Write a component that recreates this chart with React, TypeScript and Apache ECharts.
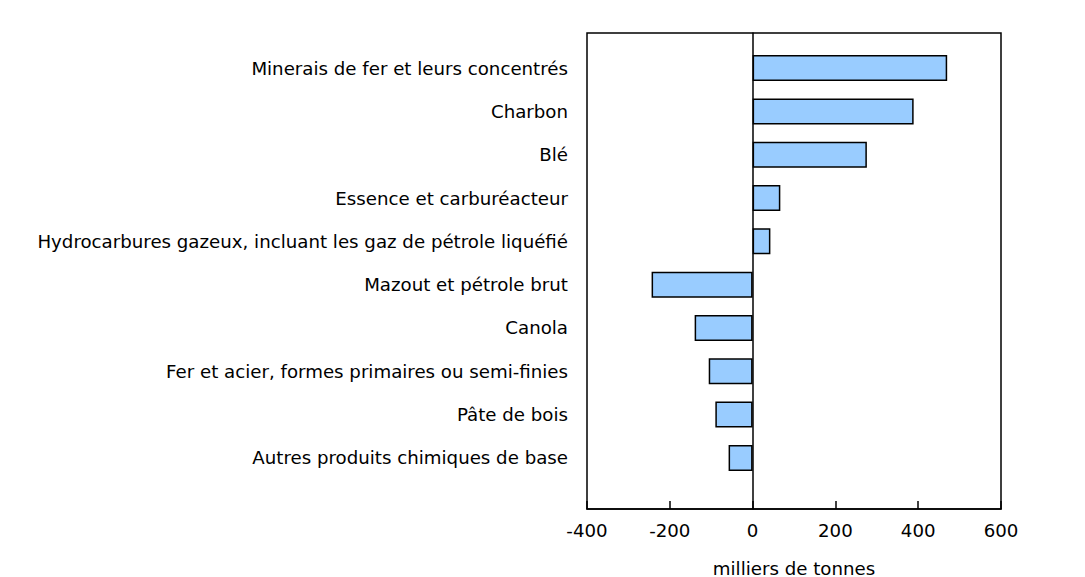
import React, { useEffect, useRef } from "react";
import * as echarts from "echarts";

const categories = [
  "Minerais de fer et leurs concentrés",
  "Charbon",
  "Blé",
  "Essence et carburéacteur",
  "Hydrocarbures gazeux, incluant les gaz de pétrole liquéfié",
  "Mazout et pétrole brut",
  "Canola",
  "Fer et acier, formes primaires ou semi-finies",
  "Pâte de bois",
  "Autres produits chimiques de base",
];
const values = [470, 389, 276, 67, 43, -244, -140, -106, -90, -58];
const xMin = -400;
const xMax = 600;
const xInterval = 200;
const xTitle = "milliers de tonnes";

const FONT = "DejaVu Sans, Verdana, sans-serif";
const FS = 18.2;

export default function App() {
  const ref = useRef<HTMLDivElement>(null);
  useEffect(() => {
    if (!ref.current) return;
    const chart = echarts.init(ref.current, null, { renderer: "svg" });
    const W = 1085;
    const H = 577;
    const left = 587;
    const right = W - 1001;
    const top = 33;
    const bottom = H - 509;
    const barTop = 46.4;
    const barBottom = H - 479.6;
    chart.setOption({
      animation: false,
      backgroundColor: "#ffffff",
      grid: [
        {
          left,
          right,
          top,
          bottom,
          show: true,
          borderColor: "#000",
          borderWidth: 1.5,
          backgroundColor: "transparent",
          containLabel: false,
          outerBoundsMode: "none",
        },
        {
          left,
          right,
          top: barTop,
          bottom: barBottom,
          containLabel: false,
          outerBoundsMode: "none",
        },
      ],
      xAxis: [
        {
          gridIndex: 0,
          type: "value",
          min: xMin,
          max: xMax,
          interval: xInterval,
          axisLine: { show: true, onZero: false, lineStyle: { color: "#000", width: 1.5 } },
          axisTick: { show: true, inside: true, length: 8, lineStyle: { color: "#000", width: 1.5 } },
          axisLabel: { color: "#000", fontFamily: FONT, fontSize: FS, margin: 12 },
          splitLine: { show: false },
          name: xTitle,
          nameLocation: "middle",
          nameGap: 50,
          nameTextStyle: { color: "#000", fontFamily: FONT, fontSize: FS },
        },
        {
          gridIndex: 1,
          type: "value",
          min: xMin,
          max: xMax,
          interval: xInterval,
          show: false,
        },
      ],
      yAxis: [
        {
          gridIndex: 0,
          type: "value",
          min: 0,
          max: 1,
          axisLine: { show: true, onZero: true, lineStyle: { color: "#000", width: 1.5 } },
          axisTick: { show: false },
          axisLabel: { show: false },
          splitLine: { show: false },
        },
        {
          gridIndex: 1,
          type: "category",
          data: categories,
          inverse: true,
          axisLine: { show: false },
          axisTick: { show: false },
          axisLabel: {
            color: "#000",
            fontFamily: FONT,
            fontSize: FS,
            margin: 19,
            padding: [4, 0, 0, 0],
          },
          splitLine: { show: false },
        },
      ],
      series: [
        {
          type: "bar",
          xAxisIndex: 1,
          yAxisIndex: 1,
          data: values,
          barWidth: 26,
          itemStyle: { color: "#99ccff", borderColor: "#000", borderWidth: 1.5 },
        },
      ],
    });
    return () => chart.dispose();
  }, []);
  return (
    <div
      ref={ref}
      style={{ position: "fixed", left: 0, top: 0, width: 1085, height: 577 }}
    />
  );
}
